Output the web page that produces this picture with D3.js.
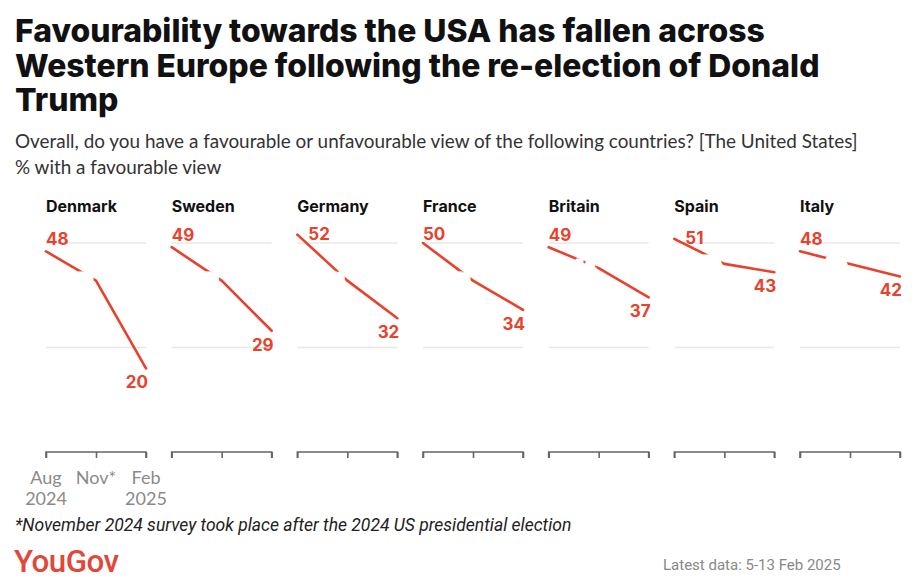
<!DOCTYPE html>
<html><head><meta charset="utf-8">
<script src="https://cdn.jsdelivr.net/npm/d3@7"></script>
<style>
body{margin:0;background:#fff;}
svg{display:block;}
</style></head>
<body>
<svg id="c" width="916" height="587"></svg>
<script>
const countries = ["Denmark","Sweden","Germany","France","Britain","Spain","Italy"];
const periods = ["Aug 2024","Nov* 2024","Feb 2025"];
const tickLabels = [["Aug","2024"],["Nov*",""],["Feb","2025"]];
const aug2024 = [48,49,52,50,49,51,48];
const nov2024 = [41,41,41,41,44,45,45];
const feb2025 = [20,29,32,34,37,43,42];
const gridValues = [25,50];
const titleLines = ["Favourability towards the USA has fallen across","Western Europe following the re-election of Donald","Trump"];
const subtitleLines = ["Overall, do you have a favourable or unfavourable view of the following countries? [The United States]","% with a favourable view"];
const footnote = "*November 2024 survey took place after the 2024 US presidential election";
const sourceText = "Latest data: 5-13 Feb 2025";

const RED = "#e8412c";
const svg = d3.select("#c");

function fit(sel, target){
  const w = sel.node().getComputedTextLength();
  const fs = parseFloat(sel.attr("font-size"));
  sel.attr("font-size", (fs*target/w).toFixed(2));
  return fs*target/w;
}

// Title
const tfont = "Inter, 'Open Sans', sans-serif";
const t1 = svg.append("text").attr("x",15).attr("y",42).attr("font-family",tfont)
  .attr("font-weight",800).attr("font-size",30).attr("fill","#111").text(titleLines[0]);
const tfs = fit(t1, 750);
titleLines.slice(1).forEach((l,i)=>{
  svg.append("text").attr("x",15).attr("y",42+34.5*(i+1)).attr("font-family",tfont)
    .attr("font-weight",800).attr("font-size",tfs).attr("fill","#111").text(l);
});

// Subtitle
const sfont = "Lato, 'Open Sans', sans-serif";
const s1 = svg.append("text").attr("x",15).attr("y",148).attr("font-family",sfont)
  .attr("font-size",16).attr("fill","#333").text(subtitleLines[0]);
const sfs = fit(s1, 843);
svg.append("text").attr("x",15).attr("y",174).attr("font-family",sfont)
  .attr("font-size",sfs).attr("fill","#333").text(subtitleLines[1]);

// Scales
const panel = d3.scaleBand().domain(countries).range([46,900]).paddingInner(0.2043).paddingOuter(0);
const x = d3.scalePoint().domain(periods).range([0, panel.bandwidth()]);
const y = d3.scaleLinear().domain([0,50]).range([452,243]);

const data = countries.map((c,i)=>({country:c, values:[aug2024[i],nov2024[i],feb2025[i]]}));

const line = d3.line().x((d,i)=>x(periods[i])).y(d=>y(d));

const g = svg.selectAll("g.panel").data(data).join("g").attr("class","panel")
  .attr("transform", d=>`translate(${panel(d.country)},0)`);

// panel titles
g.append("text").attr("x",0).attr("y",212).attr("font-family",tfont).attr("font-weight",700)
  .attr("font-size",16).attr("fill","#111").text(d=>d.country);

// gridlines
g.selectAll("line.grid").data(gridValues).join("line").attr("class","grid")
  .attr("x1",0).attr("x2",panel.bandwidth()).attr("y1",d=>y(d)).attr("y2",d=>y(d))
  .attr("stroke","#e8e8e8").attr("stroke-width",1.5);

// axis bracket
g.each(function(){
  const ax = d3.axisBottom(x).tickSize(6).tickFormat("");
  const a = d3.select(this).append("g").attr("transform",`translate(0,${y(0)})`).call(ax);
  a.select(".domain").attr("d",`M0,6V0H${panel.bandwidth()}V6`).attr("stroke","#666").attr("stroke-width",1.6);
  a.selectAll(".tick line").attr("stroke","#666").attr("stroke-width",1.6);
});

// lines
g.append("path").attr("d",d=>line(d.values)).attr("fill","none").attr("stroke",RED)
  .attr("stroke-width",2.6).attr("stroke-linecap","round").attr("stroke-linejoin","round");

// middle labels (white with halo, as in reference)
g.append("text").attr("x",d=>x(periods[1])-4).attr("y",d=>y(d.values[1])+6)
  .attr("text-anchor","end").attr("font-family",tfont).attr("font-weight",700).attr("font-size",17)
  .attr("fill","#fff").attr("stroke","#fff").attr("stroke-width",5).attr("paint-order","stroke")
  .text(d=>d.values[1]);

// start labels
g.append("text")
  .attr("x",d=>d.values[0]>50?11:0)
  .attr("y",d=>d.values[0]>50?y(d.values[0])+5:Math.max(y(d.values[0])-6,240))
  .attr("font-family",tfont).attr("font-weight",700).attr("font-size",17).attr("fill",RED)
  .text(d=>d.values[0]);

// end labels
g.append("text").attr("x",panel.bandwidth()+2).attr("y",d=>y(d.values[2])+20)
  .attr("text-anchor","end").attr("font-family",tfont).attr("font-weight",700).attr("font-size",17)
  .attr("fill",RED).text(d=>d.values[2]);

// tick labels on first panel only
const first = svg.append("g").attr("transform",`translate(${panel(countries[0])},0)`);
periods.forEach((p,i)=>{
  const t = first.append("text").attr("x",x(p)).attr("text-anchor","middle")
    .attr("font-family",sfont).attr("font-size",18).attr("fill","#8a8a8a");
  t.append("tspan").attr("x",x(p)).attr("y",484).text(tickLabels[i][0]);
  if(tickLabels[i][1]) t.append("tspan").attr("x",x(p)).attr("y",505).text(tickLabels[i][1]);
});

// footnote
const fn = svg.append("text").attr("x",15).attr("y",531).attr("font-family","Roboto, sans-serif")
  .attr("font-style","italic").attr("font-size",15).attr("fill","#222").text(footnote);
fit(fn, 557);

// logo
const logo = svg.append("text").attr("x",14).attr("y",572).attr("font-family","Roboto, sans-serif")
  .attr("font-weight",500).attr("font-size",26).attr("fill","#e0483c").attr("letter-spacing",-0.5).text("YouGov");
fit(logo, 104);

// source
svg.append("text").attr("x",663).attr("y",570).attr("font-family","Roboto, sans-serif")
  .attr("font-size",15).attr("fill","#888").text(sourceText);
</script>
</body></html>
